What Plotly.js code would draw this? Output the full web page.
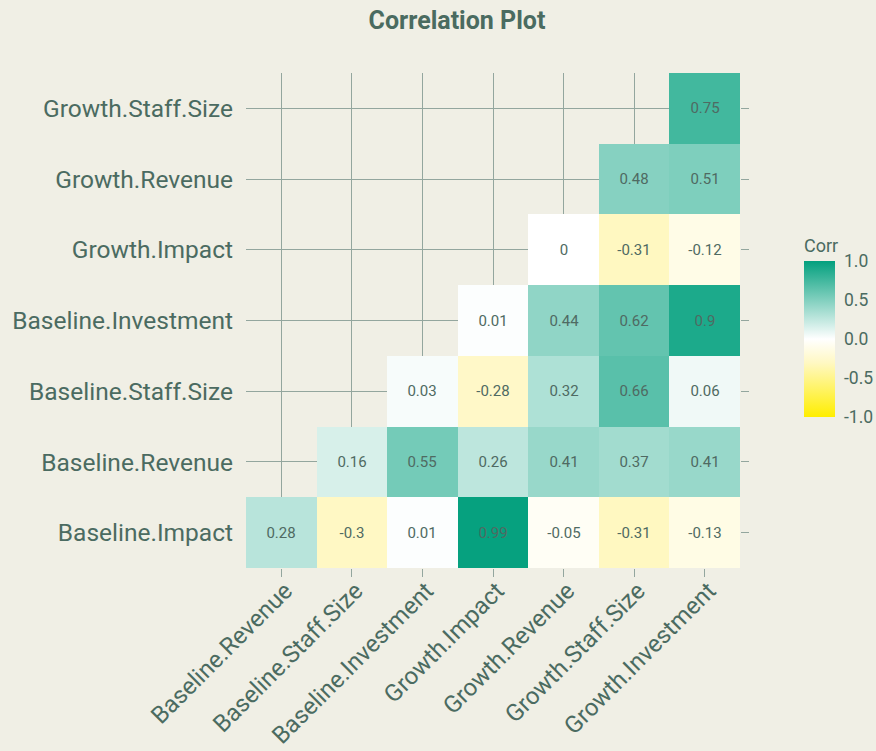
<!DOCTYPE html>
<html>
<head>
<meta charset="utf-8">
<script src="https://cdn.plot.ly/plotly-3.0.1.min.js"></script>
<style>html,body{margin:0;padding:0;background:#F0EFE5;}#chart{width:876px;height:751px;}</style>
</head>
<body>
<div id="chart"></div>
<script>
const xLabels = ["Baseline.Revenue","Baseline.Staff.Size","Baseline.Investment","Growth.Impact","Growth.Revenue","Growth.Staff.Size","Growth.Investment"];
const yLabels = ["Baseline.Impact","Baseline.Revenue","Baseline.Staff.Size","Baseline.Investment","Growth.Impact","Growth.Revenue","Growth.Staff.Size"];
const rowBaselineImpact      = [0.28, -0.3, 0.01, 0.99, -0.05, -0.31, -0.13];
const rowBaselineRevenue     = [null, 0.16, 0.55, 0.26, 0.41, 0.37, 0.41];
const rowBaselineStaffSize   = [null, null, 0.03, -0.28, 0.32, 0.66, 0.06];
const rowBaselineInvestment  = [null, null, null, 0.01, 0.44, 0.62, 0.9];
const rowGrowthImpact        = [null, null, null, null, 0, -0.31, -0.12];
const rowGrowthRevenue       = [null, null, null, null, null, 0.48, 0.51];
const rowGrowthStaffSize     = [null, null, null, null, null, null, 0.75];
const zRows = [rowBaselineImpact,rowBaselineRevenue,rowBaselineStaffSize,rowBaselineInvestment,rowGrowthImpact,rowGrowthRevenue,rowGrowthStaffSize];
const cbTicks = [-1, -0.5, 0, 0.5, 1];
const cbTickText = ["-1.0","-0.5","0.0","0.5","1.0"];

const textRows = zRows.map(r => r.map(v => v === null ? "" : String(v)));
const txt = '#4B6B61';
const grid = '#93A69E';
const font = 'Roboto, "Noto Sans", sans-serif';

const trace = {
  type: 'heatmap',
  x: xLabels, y: yLabels, z: zRows,
  text: textRows, texttemplate: '%{text}',
  textfont: {family: font, size: 15, color: '#4F6A62'},
  zmin: -1, zmax: 1,
  colorscale: [[0,'#FFEE00'],[0.35,'#FFF8C4'],[0.5,'#FFFFFF'],[1,'#03A07E']],
  hoverinfo: 'skip',
  colorbar: {
    x: 804/876, xref: 'container', xanchor: 'left',
    y: (568 - 326) / 495, yref: 'paper', yanchor: 'middle',
    thickness: 31, thicknessmode: 'pixels',
    len: 182, lenmode: 'pixels',
    outlinewidth: 0, ypad: 0, xpad: 0,
    ticks: 'outside', ticklen: 6, tickcolor: 'rgba(0,0,0,0)',
    tickvals: cbTicks, ticktext: cbTickText,
    tickfont: {family: font, size: 17.5, color: txt},
    title: {text: 'Corr', side: 'top', font: {family: font, size: 18, color: txt}}
  }
};

// invisible helper so the right-hand and bottom tick-only axes are drawn
const tickHelper = {
  type: 'scatter', mode: 'markers', x: [0], y: [0], xaxis: 'x2', yaxis: 'y2',
  marker: {opacity: 0, size: 1}, hoverinfo: 'skip', showlegend: false
};

const layout = {
  width: 876, height: 751,
  paper_bgcolor: '#F0EFE5', plot_bgcolor: '#F0EFE5',
  margin: {l: 246, r: 136, t: 73, b: 183},
  title: {text: 'Correlation Plot', font: {family: font, size: 25, color: '#4A6B60', weight: 'bold'},
          x: 457/876, xref: 'container', xanchor: 'center', y: 1 - 20/751, yref: 'container', yanchor: 'middle'},
  xaxis: {type: 'category', categoryarray: xLabels, tickangle: -45,
          showgrid: true, gridcolor: grid, gridwidth: 1, zeroline: false, showline: false,
          ticks: '', ticklabelstandoff: 3, ticklabelshift: 4,
          tickfont: {family: font, size: 24, color: txt}, fixedrange: true},
  yaxis: {type: 'category', categoryarray: yLabels,
          showgrid: true, gridcolor: grid, gridwidth: 1, zeroline: false, showline: false,
          ticks: '', ticklabelstandoff: 12,
          tickfont: {family: font, size: 24.5, color: txt}, fixedrange: true},
  xaxis2: {overlaying: 'x', side: 'bottom', anchor: 'y', type: 'linear', range: [-0.5, xLabels.length - 0.5],
           tickmode: 'array', tickvals: xLabels.map((_, i) => i), showticklabels: false,
           ticks: 'outside', ticklen: 8, tickcolor: grid, tickwidth: 1,
           showgrid: false, zeroline: false, showline: false, fixedrange: true},
  yaxis2: {overlaying: 'y', side: 'right', anchor: 'x', type: 'linear', range: [-0.5, yLabels.length - 0.5],
           tickmode: 'array', tickvals: yLabels.map((_, i) => i), showticklabels: false,
           ticks: 'outside', ticklen: 8, tickcolor: grid, tickwidth: 1,
           showgrid: false, zeroline: false, showline: false, fixedrange: true}
};

Plotly.newPlot('chart', [trace, tickHelper], layout, {displayModeBar: false, staticPlot: true});
</script>
</body>
</html>
